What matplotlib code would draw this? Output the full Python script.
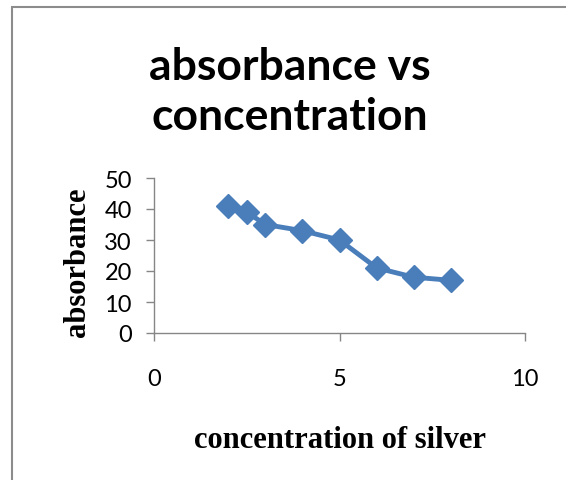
import numpy as np
import matplotlib
matplotlib.use('Agg')
import matplotlib.pyplot as plt
from matplotlib.patches import Rectangle

# data
concentration = [2, 2.5, 3, 4, 5, 6, 7, 8]
absorbance = [41, 39, 35, 33, 30, 21, 18, 17]

x_ticks = [0, 5, 10]
y_ticks = [0, 10, 20, 30, 40, 50]

W, H = 566, 481
fig = plt.figure(figsize=(W / 100, H / 100), dpi=100)

# chart area border (cut off at right and bottom)
fig.patches.append(Rectangle((12 / W, -0.1), 2.0, 1 - 8 / H + 0.1,
                             transform=fig.transFigure, fill=False,
                             edgecolor='#8c8c8c', linewidth=1.5))

ax = fig.add_axes([154 / W, 1 - 334 / H, (525 - 154) / W, (334 - 179) / H])
ax.plot(concentration, absorbance, color='#4a7ebb', linewidth=3.5,
        marker='D', markersize=12, markerfacecolor='#4a7ebb',
        markeredgecolor='#4a7ebb')

ax.set_xlim(0, 10)
ax.set_ylim(0, 50)
ax.set_xticks(x_ticks)
ax.set_yticks(y_ticks)
for s in ['top', 'right']:
    ax.spines[s].set_visible(False)
for s in ['left', 'bottom']:
    ax.spines[s].set_color('#868686')
    ax.spines[s].set_linewidth(1)
ax.tick_params(axis='both', color='#868686', length=6, width=1,
               labelsize=17, labelcolor='black')
ax.tick_params(axis='x', pad=19)
ax.tick_params(axis='y', pad=10)
for lab in ax.get_xticklabels() + ax.get_yticklabels():
    lab.set_fontfamily('Lato')

fig.text(290 / W, 1 - 92 / H, 'absorbance vs\nconcentration', ha='center',
         va='center', fontsize=32, fontweight='bold', family='Lato',
         linespacing=1.3)
fig.text(78 / W, 1 - 262 / H, 'absorbance', rotation=90, ha='center',
         va='center', fontsize=22, fontweight='bold', family='Liberation Serif')
fig.text(340 / W, 1 - 440 / H, 'concentration of silver', ha='center',
         va='center', fontsize=22, fontweight='bold', family='Liberation Serif')

fig.savefig('out.png', dpi=100)
